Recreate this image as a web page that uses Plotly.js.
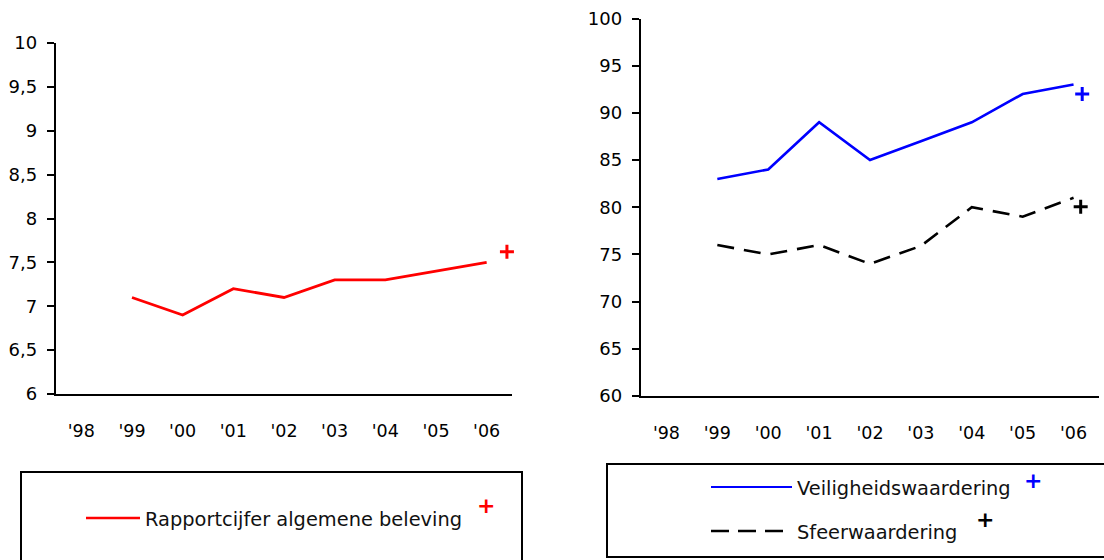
<!DOCTYPE html>
<html>
<head>
<meta charset="utf-8">
<script src="https://cdn.plot.ly/plotly-3.0.1.min.js"></script>
<style>html,body{margin:0;padding:0;background:#fff;}#chart{width:1104px;height:560px;}</style>
</head>
<body>
<div id="chart"></div>
<script>
// ---- data ----
var yearLabels = ["'98", "'99", "'00", "'01", "'02", "'03", "'04", "'05", "'06"];
var yearIndex = [0, 1, 2, 3, 4, 5, 6, 7, 8];

var rapportYears = [1, 2, 3, 4, 5, 6, 7, 8];
var rapportcijfer = [7.1, 6.9, 7.2, 7.1, 7.3, 7.3, 7.4, 7.5];

var waarderingYears = [1, 2, 3, 4, 5, 6, 7, 8];
var veiligheid = [83, 84, 89, 85, 87, 89, 92, 93];
var sfeer = [76, 75, 76, 74, 75.9, 80, 79, 81];

// "+" markers after the last year
var rapportPlusX = [8.4], rapportPlusY = [7.62];
var veiligPlusX = [8.17], veiligPlusY = [92];
var sfeerPlusX = [8.14], sfeerPlusY = [80.05];

var W = 1104, H = 560;
function px(x) { return x / W; }
function py(y) { return 1 - y / H; }

var FONT = 'DejaVu Sans, Verdana, sans-serif';

var traces = [
  {x: rapportYears, y: rapportcijfer, xaxis: 'x', yaxis: 'y', mode: 'lines',
   line: {color: '#ff0000', width: 2.8}, name: 'Rapportcijfer algemene beleving', showlegend: false},
  {x: rapportPlusX, y: rapportPlusY, xaxis: 'x', yaxis: 'y', mode: 'markers', cliponaxis: false,
   marker: {symbol: 'cross-thin', size: 10, line: {color: '#ff0000', width: 3}}, showlegend: false},
  {x: waarderingYears, y: veiligheid, xaxis: 'x2', yaxis: 'y2', mode: 'lines',
   line: {color: '#0000ff', width: 2.6}, name: 'Veiligheidswaardering', showlegend: false},
  {x: waarderingYears, y: sfeer, xaxis: 'x2', yaxis: 'y2', mode: 'lines',
   line: {color: '#000000', width: 2.6, dash: '17px,10px'}, name: 'Sfeerwaardering', showlegend: false},
  {x: veiligPlusX, y: veiligPlusY, xaxis: 'x2', yaxis: 'y2', mode: 'markers', cliponaxis: false,
   marker: {symbol: 'cross-thin', size: 10, line: {color: '#0000ff', width: 3}}, showlegend: false},
  {x: sfeerPlusX, y: sfeerPlusY, xaxis: 'x2', yaxis: 'y2', mode: 'markers', cliponaxis: false,
   marker: {symbol: 'cross-thin', size: 10, line: {color: '#000000', width: 3}}, showlegend: false}
];

function xAxis(domain, anchor) {
  return {domain: domain, anchor: anchor, range: [-0.5, 8.5], tickmode: 'array',
    tickvals: yearIndex, ticktext: yearLabels, showline: true, linecolor: '#000', linewidth: 2.2,
    ticks: '', showgrid: false, zeroline: false, ticklabelstandoff: 20,
    tickfont: {family: FONT, size: 17.5, color: '#000'}, fixedrange: true};
}
function yAxis(domain, anchor, range, dtick) {
  return {domain: domain, anchor: anchor, range: range, dtick: dtick, tick0: range[0],
    showline: true, linecolor: '#000', linewidth: 2.2, ticks: 'outside', ticklen: 7, tickwidth: 2,
    tickcolor: '#000', showgrid: false, zeroline: false, ticklabelstandoff: 6,
    tickfont: {family: FONT, size: 18, color: '#000'}, fixedrange: true};
}

var legFont = {family: FONT, size: 19.4, color: '#111'};

var layout = {
  width: W, height: H,
  margin: {l: 0, r: 0, t: 0, b: 0},
  paper_bgcolor: '#fff', plot_bgcolor: '#fff',
  separators: ',.',
  showlegend: false,
  xaxis: xAxis([px(56), px(512)], 'y'),
  yaxis: yAxis([py(394), py(43)], 'x', [6, 10], 0.5),
  xaxis2: xAxis([px(641), px(1099)], 'y2'),
  yaxis2: yAxis([py(396), py(18.5)], 'x2', [60, 100], 5),
  shapes: [
    {type: 'rect', xref: 'paper', yref: 'paper', x0: px(21), x1: px(522), y0: py(472), y1: py(580),
     line: {color: '#000', width: 2}},
    {type: 'rect', xref: 'paper', yref: 'paper', x0: px(607), x1: px(1120), y0: py(464), y1: py(557),
     line: {color: '#000', width: 2}},
    {type: 'line', xref: 'paper', yref: 'paper', x0: px(86), x1: px(140), y0: py(518), y1: py(518),
     line: {color: '#ff0000', width: 2.5}},
    {type: 'line', xref: 'paper', yref: 'paper', x0: px(711), x1: px(792), y0: py(487), y1: py(487),
     line: {color: '#0000ff', width: 2.2}},
    {type: 'line', xref: 'paper', yref: 'paper', x0: px(711), x1: px(783), y0: py(531), y1: py(531),
     line: {color: '#000', width: 2.4, dash: '18px,9px'}}
  ],
  annotations: [
    {xref: 'paper', yref: 'paper', x: px(143), y: py(519), xanchor: 'left', yanchor: 'middle',
     text: 'Rapportcijfer algemene beleving', showarrow: false, font: legFont},
    {xref: 'paper', yref: 'paper', x: px(795), y: py(488), xanchor: 'left', yanchor: 'middle',
     text: 'Veiligheidswaardering', showarrow: false, font: legFont},
    {xref: 'paper', yref: 'paper', x: px(795), y: py(532), xanchor: 'left', yanchor: 'middle',
     text: 'Sfeerwaardering', showarrow: false, font: legFont},
    {xref: 'paper', yref: 'paper', x: px(486), y: py(505), xanchor: 'center', yanchor: 'middle',
     text: '+', showarrow: false, font: {family: FONT, size: 22, color: '#ff0000', weight: 'bold'}},
    {xref: 'paper', yref: 'paper', x: px(1033), y: py(480), xanchor: 'center', yanchor: 'middle',
     text: '+', showarrow: false, font: {family: FONT, size: 22, color: '#0000ff', weight: 'bold'}},
    {xref: 'paper', yref: 'paper', x: px(985), y: py(519), xanchor: 'center', yanchor: 'middle',
     text: '+', showarrow: false, font: {family: FONT, size: 22, color: '#000', weight: 'bold'}}
  ]
};

Plotly.newPlot('chart', traces, layout, {staticPlot: true, displayModeBar: false});
</script>
</body>
</html>
